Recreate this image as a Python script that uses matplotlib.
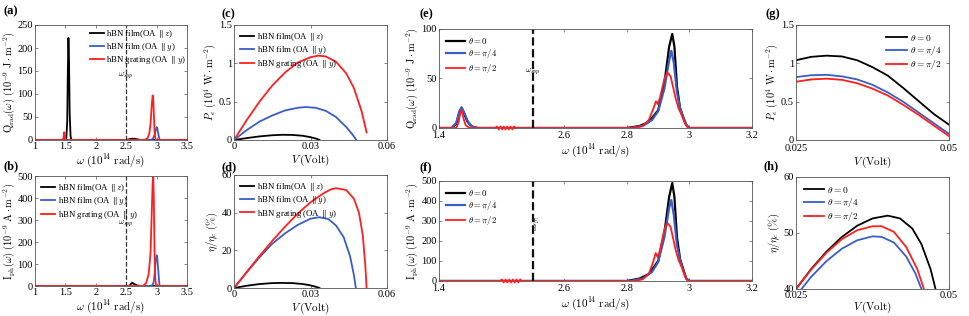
import numpy as np
import matplotlib
matplotlib.use("Agg")
import matplotlib.pyplot as plt

plt.rcParams['font.family'] = ['Liberation Serif', 'DejaVu Serif']
plt.rcParams['mathtext.fontset'] = 'cm'
plt.rcParams['xtick.direction'] = 'in'
plt.rcParams['ytick.direction'] = 'in'
plt.rcParams['xtick.top'] = True
plt.rcParams['ytick.right'] = True
plt.rcParams['xtick.major.size'] = 2.5
plt.rcParams['ytick.major.size'] = 2.5
plt.rcParams['axes.linewidth'] = 0.6
plt.rcParams['axes.edgecolor'] = '#555555'

BLACK = '#000000'
BLUE = '#3B5CC4'
RED = '#FF1F1F'

# ---------------- data ----------------
# (a) radiative heat spectrum
a_black_x = [1.0, 1.49, 1.515, 1.53, 1.54, 1.55, 1.56, 1.57, 1.585, 1.60, 2.50, 2.56, 2.60, 2.65, 2.70, 2.75, 3.5]
a_black_y = [0, 0, 4, 40, 150, 222, 170, 60, 8, 0, 0, 2, 3, 2.5, 1, 0, 0]
a_blue_x = [1.0, 2.90, 2.94, 2.97, 2.99, 3.00, 3.01, 3.025, 3.04, 3.055, 3.5]
a_blue_y = [0, 0, 3, 12, 24, 28, 26, 16, 5, 0, 0]
a_red_x = [1.0, 1.46, 1.47, 1.48, 1.487, 1.495, 1.505, 2.80, 2.85, 2.88, 2.90, 2.92, 2.935, 2.945, 2.955, 2.965, 2.975, 2.99, 3.5]
a_red_y = [0, 0, 6, 17, 12, 3, 0, 0, 4, 14, 35, 75, 97, 90, 55, 22, 6, 0, 0]

# (b) photocurrent spectrum
b_black_x = [1.0, 2.55, 2.58, 2.60, 2.63, 2.67, 2.72, 3.5]
b_black_y = [0, 0, 10, 15, 9, 4, 0, 0]
b_blue_x = [1.0, 2.92, 2.95, 2.97, 2.985, 3.00, 3.01, 3.025, 3.04, 3.05, 3.5]
b_blue_y = [0, 0, 15, 60, 120, 140, 130, 80, 25, 0, 0]
b_red_x = [1.0, 2.78, 2.83, 2.87, 2.90, 2.92, 2.935, 2.945, 2.955, 2.965, 2.975, 2.99, 3.5]
b_red_y = [0, 0, 15, 55, 150, 330, 470, 495, 380, 170, 50, 0, 0]

# (c) electric power vs voltage
c_V = [0.0, 0.005, 0.01, 0.015, 0.02, 0.025, 0.03, 0.033, 0.036, 0.04, 0.044, 0.047, 0.05, 0.052]
c_red = [0.0, 0.26, 0.50, 0.71, 0.88, 1.01, 1.08, 1.10, 1.09, 1.02, 0.87, 0.68, 0.38, 0.10]
c_V_blue = [0.0, 0.005, 0.01, 0.015, 0.02, 0.025, 0.028, 0.032, 0.036, 0.04, 0.044, 0.0465, 0.048]
c_blue = [0.0, 0.13, 0.24, 0.32, 0.385, 0.42, 0.43, 0.42, 0.38, 0.30, 0.17, 0.07, 0.0]
c_V_black = [0.0, 0.005, 0.01, 0.015, 0.019, 0.023, 0.027, 0.030, 0.0325, 0.0335]
c_black = [0.0, 0.025, 0.047, 0.062, 0.068, 0.066, 0.055, 0.037, 0.015, 0.0]

# (d) efficiency vs voltage
d_V_red = [0.0, 0.005, 0.01, 0.015, 0.02, 0.025, 0.03, 0.035, 0.038, 0.040, 0.044, 0.047, 0.049, 0.0505, 0.0515, 0.052]
d_red = [0.0, 8.5, 17, 25, 32.5, 39.5, 45.5, 50.2, 52.4, 53, 52, 47.5, 40, 28, 12, 0]
d_V_blue = [0.0, 0.005, 0.01, 0.015, 0.02, 0.025, 0.03, 0.0335, 0.037, 0.04, 0.043, 0.0455, 0.047, 0.0478]
d_blue = [0.0, 8.3, 16.3, 23.5, 29, 33.5, 36.8, 37.6, 36.6, 33.2, 27, 17, 7, 0]
d_V_black = [0.0, 0.005, 0.01, 0.015, 0.019, 0.023, 0.027, 0.030, 0.0325, 0.0335]
d_black = [0.0, 1.2, 2.1, 2.6, 2.7, 2.6, 2.1, 1.4, 0.5, 0.0]

# (e) radiative heat spectrum vs theta
e_black_x = [1.4, 1.44, 1.455, 1.465, 1.472, 1.48, 1.49, 1.50, 1.51, 1.525, 2.80, 2.84, 2.87, 2.90, 2.92, 2.935, 2.945, 2.952, 2.96, 2.97, 2.98, 2.99, 3.0, 3.2]
e_black_y = [0, 0, 4, 15, 20, 15, 7, 3, 1, 0, 0, 2, 6, 18, 45, 82, 95, 82, 42, 20, 11, 3, 0, 0]
e_blue_x = [1.4, 1.44, 1.455, 1.465, 1.472, 1.48, 1.49, 1.50, 1.51, 1.525, 2.81, 2.85, 2.88, 2.90, 2.92, 2.935, 2.942, 2.95, 2.96, 2.97, 2.98, 2.99, 3.0, 3.2]
e_blue_y = [0, 0, 5, 17, 21, 16, 8, 3, 1, 0, 0, 2, 8, 17, 40, 68, 78, 66, 36, 20, 11, 3, 0, 0]
e_red_x = [1.4, 1.455, 1.462, 1.468, 1.473, 1.478, 1.485, 1.495, 1.50, 2.82, 2.85, 2.87, 2.885, 2.893, 2.899, 2.906, 2.92, 2.93, 2.94, 2.955, 2.965, 2.975, 2.985, 2.995, 3.2]
e_red_y = [0, 0, 5, 15, 18, 10, 3, 0.5, 0, 0, 2, 8, 20, 27, 24, 31, 50, 56, 52, 31, 20, 13, 5, 0, 0]

# (f) photocurrent spectrum vs theta
f_black_x = [1.4, 2.80, 2.84, 2.87, 2.90, 2.92, 2.935, 2.945, 2.952, 2.96, 2.97, 2.98, 2.99, 3.0, 3.2]
f_black_y = [0, 0, 12, 35, 100, 240, 420, 490, 420, 220, 110, 60, 12, 0, 0]
f_blue_x = [1.4, 2.81, 2.85, 2.88, 2.90, 2.92, 2.935, 2.942, 2.95, 2.96, 2.97, 2.98, 2.99, 3.0, 3.2]
f_blue_y = [0, 0, 12, 45, 95, 220, 365, 405, 330, 180, 105, 55, 12, 0, 0]
f_red_x = [1.4, 2.82, 2.85, 2.87, 2.885, 2.892, 2.898, 2.905, 2.92, 2.93, 2.94, 2.955, 2.965, 2.975, 2.985, 2.995, 3.2]
f_red_y = [0, 0, 8, 35, 100, 140, 120, 150, 260, 290, 270, 160, 105, 70, 25, 0, 0]

# (g) electric power vs voltage, theta
g_V = [0.025, 0.0275, 0.030, 0.0325, 0.035, 0.0375, 0.040, 0.0425, 0.045, 0.0475, 0.050]
g_black = [1.04, 1.085, 1.10, 1.09, 1.04, 0.95, 0.84, 0.68, 0.51, 0.34, 0.20]
g_blue = [0.82, 0.845, 0.85, 0.83, 0.79, 0.72, 0.62, 0.50, 0.36, 0.22, 0.08]
g_red = [0.76, 0.79, 0.80, 0.785, 0.74, 0.67, 0.58, 0.46, 0.33, 0.19, 0.05]

# (h) efficiency vs voltage, theta
h_V_black = [0.025, 0.0275, 0.030, 0.0325, 0.035, 0.0375, 0.040, 0.042, 0.044, 0.0455, 0.047, 0.0478]
h_black = [40.0, 43.6, 46.7, 49.3, 51.3, 52.6, 53.1, 52.6, 50.8, 48.0, 43.5, 40.0]
h_V_blue = [0.0259, 0.0275, 0.030, 0.0325, 0.035, 0.0375, 0.039, 0.041, 0.043, 0.0445, 0.0455]
h_blue = [40.0, 42.2, 45.0, 47.2, 48.7, 49.4, 49.3, 48.3, 45.8, 42.8, 40.0]
h_V_red = [0.025, 0.0275, 0.030, 0.0325, 0.035, 0.0375, 0.039, 0.041, 0.043, 0.0448, 0.0459]
h_red = [40.0, 43.5, 46.5, 48.9, 50.5, 51.2, 51.2, 50.2, 47.5, 43.6, 40.0]

film_labels = [r'hBN film(OA $\parallel z$)', r'hBN film (OA $\parallel y$)', r'hBN grating (OA $\parallel y$)']
theta_labels = [r'$\theta = 0$', r'$\theta = \pi/4$', r'$\theta = \pi/2$']

w_label = r'$\omega\ (10^{14}\ \mathrm{rad/s})$'
v_label = r'$V\,(\mathrm{Volt})$'
q_label = r'$\mathrm{Q_{rad}}(\omega)\ (10^{-9}\ \mathrm{J\cdot m^{-2}})$'
i_label = r'$\mathrm{I_{ph}}(\omega)\ (10^{-9}\ \mathrm{A\cdot m^{-2}})$'
p_label = r'$P_e\ (10^4\ \mathrm{W\cdot m^{-2}})$'
eta_label = r'$\eta/\eta_c\ (\%)$'

W, H = 969, 316
fig = plt.figure(figsize=(W / 100, H / 100), dpi=100)

def box(l, r, t, b):
    return [l / W, 1 - b / H, (r - l) / W, (b - t) / H]

TF = 7.5
LF = 8
YLF = 7.5
LEGF = 6.3

def style(ax):
    ax.tick_params(labelsize=TF, pad=1.5, width=0.5, color='#555555')

def panel_label(ax, s, x, y):
    fig.text(x / W, 1 - y / H, s, fontsize=9, fontweight='bold', va='center', ha='left')

# ---- (a)
ax = fig.add_axes(box(35, 187, 25, 140))
ax.plot(a_black_x, a_black_y, color=BLACK, lw=1.3, label=film_labels[0])
ax.plot(a_blue_x, a_blue_y, color=BLUE, lw=1.3, label=film_labels[1])
ax.plot(a_red_x, a_red_y, color=RED, lw=1.3, label=film_labels[2])
ax.axvline(2.5, color='#333333', ls='--', lw=0.9)
ax.text(2.5, 140, r'$\omega_{spp}$', fontsize=6, ha='center', va='center')
ax.set_xlim(1, 3.5); ax.set_ylim(0, 250)
ax.set_xticks([1, 1.5, 2, 2.5, 3, 3.5]); ax.set_xticklabels(['1', '1.5', '2', '2.5', '3', '3.5'])
ax.set_yticks([0, 50, 100, 150, 200, 250])
ax.set_xlabel(w_label, fontsize=LF, labelpad=1)
ax.set_ylabel(q_label, fontsize=YLF, labelpad=0)
ax.legend(loc='upper right', fontsize=LEGF, frameon=False, handlelength=1.6, handletextpad=0.3,
          labelspacing=0.15, borderaxespad=0.2, bbox_to_anchor=(1.03, 1.02))
style(ax)
panel_label(ax, '(a)', 3, 11)

# ---- (b)
ax = fig.add_axes(box(35, 187, 176, 286))
ax.plot(b_black_x, b_black_y, color=BLACK, lw=1.3, label=film_labels[0])
ax.plot(b_blue_x, b_blue_y, color=BLUE, lw=1.3, label=film_labels[1])
ax.plot(b_red_x, b_red_y, color=RED, lw=1.3, label=film_labels[2])
ax.axvline(2.5, color='#333333', ls='--', lw=0.9)
ax.text(2.5, 280, r'$\omega_{spp}$', fontsize=6, ha='center', va='center')
ax.set_xlim(1, 3.5); ax.set_ylim(0, 500)
ax.set_xticks([1, 1.5, 2, 2.5, 3, 3.5]); ax.set_xticklabels(['1', '1.5', '2', '2.5', '3', '3.5'])
ax.set_yticks([0, 100, 200, 300, 400, 500])
ax.set_xlabel(w_label, fontsize=LF, labelpad=1)
ax.set_ylabel(i_label, fontsize=YLF, labelpad=0)
ax.legend(loc='upper left', fontsize=LEGF, frameon=False, handlelength=1.6, handletextpad=0.3,
          labelspacing=0.15, borderaxespad=0.3)
style(ax)
panel_label(ax, '(b)', 3, 166)

# ---- (c)
ax = fig.add_axes(box(234, 387, 25, 140))
ax.plot(c_V_black, c_black, color=BLACK, lw=1.3, label=film_labels[0])
ax.plot(c_V_blue, c_blue, color=BLUE, lw=1.3, label=film_labels[1])
ax.plot(c_V, c_red, color=RED, lw=1.3, label=film_labels[2])
ax.set_xlim(0, 0.06); ax.set_ylim(0, 1.5)
ax.set_xticks([0, 0.03, 0.06]); ax.set_xticklabels(['0', '0.03', '0.06'])
ax.set_yticks([0, 0.5, 1, 1.5]); ax.set_yticklabels(['0', '0.5', '1', '1.5'])
ax.set_xlabel(v_label, fontsize=LF, labelpad=1)
ax.set_ylabel(p_label, fontsize=YLF, labelpad=1)
ax.legend(loc='upper left', fontsize=LEGF, frameon=False, handlelength=1.6, handletextpad=0.3,
          labelspacing=0.15, borderaxespad=0.3)
style(ax)
panel_label(ax, '(c)', 222, 14)

# ---- (d)
ax = fig.add_axes(box(234, 387, 175, 288))
ax.plot(d_V_black, d_black, color=BLACK, lw=1.3, label=film_labels[0])
ax.plot(d_V_blue, d_blue, color=BLUE, lw=1.3, label=film_labels[1])
ax.plot(d_V_red, d_red, color=RED, lw=1.3, label=film_labels[2])
ax.set_xlim(0, 0.06); ax.set_ylim(0, 60)
ax.set_xticks([0, 0.03, 0.06]); ax.set_xticklabels(['0', '0.03', '0.06'])
ax.set_yticks([0, 20, 40, 60])
ax.set_xlabel(v_label, fontsize=LF, labelpad=1)
ax.set_ylabel(eta_label, fontsize=YLF, labelpad=1)
ax.legend(loc='upper left', fontsize=LEGF, frameon=False, handlelength=1.6, handletextpad=0.3,
          labelspacing=0.15, borderaxespad=0.3)
style(ax)
panel_label(ax, '(d)', 222, 167)

# broken-axis scale for (e),(f)
def fwd(x):
    x = np.asarray(x, float)
    return np.where(x <= 1.6, x, np.where(x >= 2.4, x - 0.8 + 0.0008, 1.6 + (x - 1.6) * 0.001))

def inv(y):
    y = np.asarray(y, float)
    return np.where(y <= 1.6, y, np.where(y >= 1.6008, y + 0.8 - 0.0008, 1.6 + (y - 1.6) / 0.001))

def zigzag(ax, x0, x1):
    n = 13
    xs = np.linspace(x0, x1, n)
    ys = np.array([0.0 if i in (0, n - 1) else (0.018 if i % 2 else -0.018) for i in range(n)])
    ax.plot(xs, ys, color=RED, lw=1.0, transform=ax.transAxes, clip_on=False, zorder=5)

# ---- (e)
ax = fig.add_axes(box(439, 752, 29, 128))
ax.set_xscale('function', functions=(fwd, inv))
ax.plot(e_black_x, e_black_y, color=BLACK, lw=1.6, label=theta_labels[0])
ax.plot(e_blue_x, e_blue_y, color=BLUE, lw=1.6, label=theta_labels[1])
ax.plot(e_red_x, e_red_y, color=RED, lw=1.3, label=theta_labels[2])
ax.axvline(2.5, color='#111111', ls='--', lw=1.6)
ax.text(2.5, 57, r'$\omega_{spp}$', fontsize=6, ha='center', va='center')
zigzag(ax, 0.18, 0.245)
ax.set_xlim(1.4, 3.2); ax.set_ylim(0, 100)
ax.set_xticks([1.4, 2.6, 2.8, 3.0, 3.2]); ax.set_xticklabels(['1.4', '2.6', '2.8', '3', '3.2'])
ax.xaxis.set_minor_locator(matplotlib.ticker.NullLocator())
ax.set_yticks([0, 50, 100])
ax.set_xlabel(w_label, fontsize=LF, labelpad=1)
ax.set_ylabel(q_label, fontsize=YLF, labelpad=1)
ax.legend(loc='upper left', fontsize=LEGF, frameon=False, handlelength=2.2, handletextpad=0.3,
          labelspacing=0.15, borderaxespad=0.4)
style(ax)
ax.tick_params(axis='x', pad=2.5)
panel_label(ax, '(e)', 420, 14)

# ---- (f)
ax = fig.add_axes(box(439, 752, 181, 281))
ax.set_xscale('function', functions=(fwd, inv))
ax.plot(f_black_x, f_black_y, color=BLACK, lw=1.6, label=theta_labels[0])
ax.plot(f_blue_x, f_blue_y, color=BLUE, lw=1.6, label=theta_labels[1])
ax.plot(f_red_x, f_red_y, color=RED, lw=1.3, label=theta_labels[2])
ax.axvline(2.5, color='#111111', ls='--', lw=1.6)
ax.text(2.5, 285, r'$\omega_{spp}$', fontsize=6, ha='center', va='center', rotation=-90)
zigzag(ax, 0.195, 0.265)
ax.set_xlim(1.4, 3.2); ax.set_ylim(0, 500)
ax.set_xticks([1.4, 2.6, 2.8, 3.0, 3.2]); ax.set_xticklabels(['1.4', '2.6', '2.8', '3', '3.2'])
ax.xaxis.set_minor_locator(matplotlib.ticker.NullLocator())
ax.set_yticks([0, 100, 200, 300, 400, 500])
ax.set_xlabel(w_label, fontsize=LF, labelpad=1)
ax.set_ylabel(i_label, fontsize=YLF, labelpad=1)
ax.legend(loc='upper left', fontsize=LEGF, frameon=False, handlelength=2.2, handletextpad=0.3,
          labelspacing=0.15, borderaxespad=0.4)
style(ax)
ax.tick_params(axis='x', pad=2.5)
panel_label(ax, '(f)', 420, 167)

# ---- (g)
ax = fig.add_axes(box(796, 949, 25, 140))
ax.plot(g_V, g_black, color=BLACK, lw=1.3, label=theta_labels[0])
ax.plot(g_V, g_blue, color=BLUE, lw=1.3, label=theta_labels[1])
ax.plot(g_V, g_red, color=RED, lw=1.3, label=theta_labels[2])
ax.set_xlim(0.025, 0.05); ax.set_ylim(0, 1.5)
ax.set_xticks([0.025, 0.05]); ax.set_xticklabels(['0.025', '0.05'])
ax.set_yticks([0, 0.5, 1, 1.5]); ax.set_yticklabels(['0', '0.5', '1', '1.5'])
ax.set_xlabel(v_label, fontsize=LF, labelpad=1)
ax.set_ylabel(p_label, fontsize=YLF, labelpad=1)
ax.legend(loc='upper right', fontsize=LEGF + 0.5, frameon=False, handlelength=2.2, handletextpad=0.3,
          labelspacing=0.15, borderaxespad=0.4)
style(ax)
ax.tick_params(axis='x', pad=3)
panel_label(ax, '(g)', 766, 14)

# ---- (h)
ax = fig.add_axes(box(796, 949, 177, 289))
ax.plot(h_V_black, h_black, color=BLACK, lw=1.3, label=theta_labels[0])
ax.plot(h_V_blue, h_blue, color=BLUE, lw=1.3, label=theta_labels[1])
ax.plot(h_V_red, h_red, color=RED, lw=1.3, label=theta_labels[2])
ax.set_xlim(0.025, 0.05); ax.set_ylim(40, 60)
ax.set_xticks([0.025, 0.05]); ax.set_xticklabels(['0.025', '0.05'])
ax.set_yticks([40, 50, 60])
ax.set_xlabel(v_label, fontsize=LF, labelpad=0)
ax.set_ylabel(eta_label, fontsize=YLF, labelpad=1)
ax.legend(loc='upper left', fontsize=LEGF + 0.5, frameon=False, handlelength=2.2, handletextpad=0.3,
          labelspacing=0.15, borderaxespad=0.4)
style(ax)
ax.tick_params(axis='x', pad=1.5)
panel_label(ax, '(h)', 763, 166)

fig.savefig('out.png', dpi=100)
